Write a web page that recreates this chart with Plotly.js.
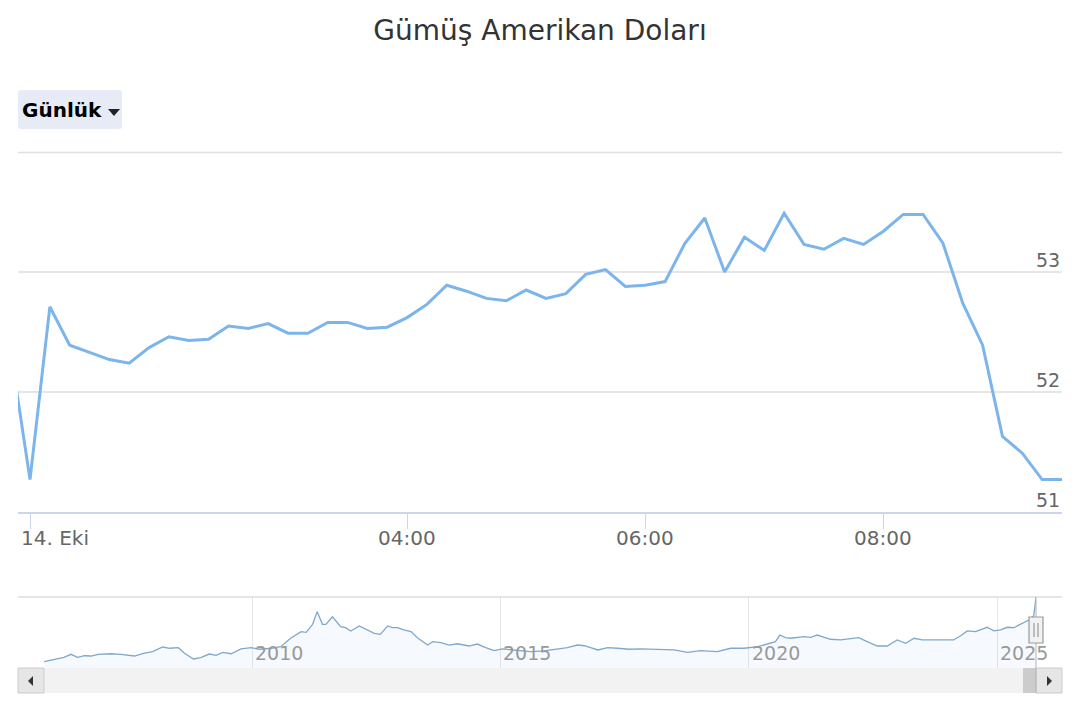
<!DOCTYPE html>
<html>
<head>
<meta charset="utf-8">
<script src="https://cdn.plot.ly/plotly-3.0.1.min.js"></script>
<style>html,body{margin:0;padding:0;background:#fff;}#chart{width:1080px;height:720px;}</style>
</head>
<body>
<div id="chart"></div>
<script>
// ---- main series: 10-minute prices (USD/oz) ----
const times = ["23:50","00:00","01:00","01:10","01:20","01:30","01:40","01:50","02:00","02:10","02:20","02:30","02:40","02:50","03:00","03:10","03:20","03:30","03:40","03:50","04:00","04:10","04:20","04:30","04:40","04:50","05:00","05:10","05:20","05:30","05:40","05:50","06:00","06:10","06:20","06:30","06:40","06:50","07:00","07:10","07:20","07:30","07:40","07:50","08:00","08:10","08:20","08:30","08:40","08:50","09:00","09:10","09:20","09:30"];
const prices = [52.37,51.27,52.71,52.39,52.33,52.27,52.24,52.37,52.46,52.43,52.44,52.55,52.53,52.57,52.49,52.49,52.58,52.58,52.53,52.54,52.62,52.73,52.89,52.84,52.78,52.76,52.85,52.78,52.82,52.98,53.02,52.88,52.89,52.92,53.24,53.45,53.00,53.29,53.18,53.49,53.23,53.19,53.28,53.23,53.34,53.48,53.48,53.24,52.74,52.39,51.63,51.49,51.27,51.27];
const tickTimes = ["00:00","04:00","06:00","08:00"];
const tickLabels = ["14. Eki","04:00","06:00","08:00"];
const yTicks = [51,52,53,54];
const yLabels = ["51","52","53"];

// ---- navigator series: long history ----
const navDates = ["2005-10-25","2006-01-20","2006-03-20","2006-05-10","2006-06-28","2006-08-18","2006-10-05","2006-11-25","2007-03-01","2007-05-12","2007-08-20","2007-11-01","2008-01-01","2008-03-15","2008-05-05","2008-07-08","2008-08-22","2008-10-27","2008-12-20","2009-02-20","2009-04-12","2009-05-30","2009-08-01","2009-10-12","2009-12-25","2010-02-25","2010-05-25","2010-07-30","2010-10-12","2010-12-28","2011-02-03","2011-03-22","2011-04-25","2011-06-03","2011-06-28","2011-08-15","2011-10-15","2011-11-20","2011-12-28","2012-02-28","2012-04-30","2012-06-18","2012-08-01","2012-09-24","2012-10-30","2012-12-05","2013-01-22","2013-03-15","2013-05-01","2013-07-15","2013-08-22","2013-10-20","2013-12-20","2014-02-20","2014-05-15","2014-07-15","2014-09-16","2014-11-16","2015-01-15","2015-04-12","2015-08-12","2015-11-18","2016-03-08","2016-05-08","2016-07-20","2016-09-10","2016-12-18","2017-02-28","2017-05-12","2017-08-05","2017-10-30","2018-01-12","2018-04-20","2018-07-01","2018-10-10","2019-01-12","2019-05-15","2019-08-22","2019-11-28","2020-03-08","2020-07-16","2020-08-18","2020-09-27","2020-11-06","2021-02-10","2021-04-01","2021-05-19","2021-08-25","2021-11-06","2022-01-08","2022-03-20","2022-05-22","2022-08-03","2022-10-16","2022-12-28","2023-03-01","2023-05-01","2023-07-01","2023-09-24","2023-12-05","2024-02-16","2024-04-08","2024-05-26","2024-07-26","2024-09-01","2024-10-20","2024-12-08","2025-01-26","2025-03-17","2025-05-05","2025-06-20","2025-08-22","2025-09-27","2025-10-14"];
const navValues = [7.1,8.8,10.2,12.3,10.2,11.3,11.1,12.3,12.7,12.3,11.1,13.2,14.2,17.5,16.6,17.0,13.0,9.0,9.9,12.5,11.6,13.7,12.7,16.1,17.0,15.9,16.6,17.7,23.7,28.4,27.9,33.6,42.6,33.6,33.6,39.0,31.9,31.2,28.9,32.4,29.6,27.2,26.5,32.4,31.2,31.2,29.6,28.4,24.1,18.9,21.3,20.6,18.9,19.8,18.2,19.6,17.0,14.9,16.1,15.4,14.2,14.7,16.1,17.0,18.9,18.4,15.4,17.0,16.6,15.9,16.1,15.9,15.9,15.4,13.7,14.9,14.2,16.6,16.6,17.7,21.3,26.0,24.1,23.7,24.8,24.4,26.0,23.0,22.5,23.2,24.1,21.3,18.2,18.2,22.5,20.1,23.7,22.5,22.5,22.5,22.5,25.5,28.9,28.4,29.8,31.5,28.9,29.6,31.5,31.2,33.6,36.7,39.7,52.6];
const navYears = ["2010","2015","2020","2025"];

// ---- layout helpers (pixel -> paper) ----
const PL = 18, PR = 1062, PW = PR - PL, H = 720;
const px = x => (x - PL) / PW;
const py = y => 1 - y / H;
const FONT = "DejaVu Sans, Verdana, sans-serif";

const xIdx = times.map((t, i) => i);
const tickIdx = tickTimes.map(t => times.indexOf(t));

const mainTrace = {
  x: xIdx, y: prices, type: "scatter", mode: "lines",
  line: {color: "#7cb5ec", width: 3}, hoverinfo: "skip", xaxis: "x", yaxis: "y"
};
const navTrace = {
  x: navDates, y: navValues, type: "scatter", mode: "lines",
  line: {color: "#7fa8cc", width: 1.3}, fill: "tozeroy", fillcolor: "rgba(124,181,236,0.07)",
  hoverinfo: "skip", xaxis: "x2", yaxis: "y2"
};

const annotations = [];
// y labels (above gridlines, right aligned)
yLabels.forEach(l => annotations.push({
  xref: "paper", yref: "y", x: 1, y: +l, xanchor: "right", yanchor: "middle", yshift: 12,
  text: l, showarrow: false, font: {family: FONT, size: 19, color: "#666"}
}));
// x labels
tickLabels.forEach((l, i) => annotations.push({
  xref: "x", yref: "paper", x: tickIdx[i], y: py(538), xanchor: i === 0 ? "left" : "center",
  xshift: i === 0 ? -11 : 0, yanchor: "middle",
  text: l, showarrow: false, font: {family: FONT, size: 20, color: "#666"}
}));
// navigator year labels
navYears.forEach(l => annotations.push({
  xref: "x2", yref: "paper", x: l + "-01-01", y: py(653), xanchor: "left", xshift: 1, yanchor: "middle",
  text: l, showarrow: false, font: {family: FONT, size: 19, color: "#999"}
}));
// range selector button text
annotations.push({
  xref: "paper", yref: "paper", x: px(20), y: py(110), xanchor: "left", yanchor: "middle",
  text: "Günlük", showarrow: false, font: {family: FONT, size: 20, color: "#000", weight: "bold"}
});

const P = (x, y) => px(x).toFixed(5) + "," + py(y).toFixed(5);
// rounded rectangle path in pixel terms
const rr = (x0, y0, x1, y1, r) =>
  "M" + P(x0 + r, y0) + "L" + P(x1 - r, y0) + "Q" + P(x1, y0) + " " + P(x1, y0 + r) +
  "L" + P(x1, y1 - r) + "Q" + P(x1, y1) + " " + P(x1 - r, y1) +
  "L" + P(x0 + r, y1) + "Q" + P(x0, y1) + " " + P(x0, y1 - r) +
  "L" + P(x0, y0 + r) + "Q" + P(x0, y0) + " " + P(x0 + r, y0) + "Z";

const shapes = [
  // range button box
  {type: "path", xref: "paper", yref: "paper", path: rr(18, 90, 122, 129, 3), fillcolor: "#e6ebf5", line: {width: 0}, layer: "below"},
  {type: "path", xref: "paper", yref: "paper", path: "M" + P(108, 109) + "L" + P(120, 109) + "L" + P(114, 116) + "Z", fillcolor: "#222", line: {width: 0}},
  // top gridline of main plot
  {type: "line", xref: "paper", yref: "paper", x0: 0, x1: 1, y0: py(152.5), y1: py(152.5), line: {color: "#e0e0e0", width: 1.3}},
  // navigator top outline
  {type: "line", xref: "paper", yref: "paper", x0: px(18), x1: px(1062), y0: py(597), y1: py(597), line: {color: "#cccccc", width: 1.2}},
  // scrollbar track
  {type: "rect", xref: "paper", yref: "paper", x0: px(18), x1: px(1062), y0: py(693), y1: py(668), fillcolor: "#f2f2f2", line: {width: 0}},
  // scrollbar thumb
  {type: "rect", xref: "paper", yref: "paper", x0: px(1023), x1: px(1036), y0: py(693), y1: py(668), fillcolor: "#cccccc", line: {width: 0}},
  // buttons
  {type: "rect", xref: "paper", yref: "paper", x0: px(18), x1: px(44), y0: py(693), y1: py(668), fillcolor: "#e6e6e6", line: {color: "#cccccc", width: 1}},
  {type: "rect", xref: "paper", yref: "paper", x0: px(1036), x1: px(1062), y0: py(693), y1: py(668), fillcolor: "#e6e6e6", line: {color: "#cccccc", width: 1}},
  {type: "path", xref: "paper", yref: "paper", path: "M" + P(33, 676) + "L" + P(33, 686) + "L" + P(28, 681) + "Z", fillcolor: "#333", line: {width: 0}},
  {type: "path", xref: "paper", yref: "paper", path: "M" + P(1047, 676) + "L" + P(1047, 686) + "L" + P(1052, 681) + "Z", fillcolor: "#333", line: {width: 0}},
  // navigator outline at selection edge
  {type: "line", xref: "paper", yref: "paper", x0: px(1036), x1: px(1036), y0: py(597), y1: py(617), line: {color: "#b3b3b3", width: 1}},
  {type: "line", xref: "paper", yref: "paper", x0: px(1036), x1: px(1036), y0: py(643), y1: py(693), line: {color: "#b3b3b3", width: 1}},
  // navigator handle
  {type: "rect", xref: "paper", yref: "paper", x0: px(1029), x1: px(1043), y0: py(643), y1: py(617), fillcolor: "#f2f2f2", line: {color: "#999999", width: 1.2}},
  {type: "line", xref: "paper", yref: "paper", x0: px(1034), x1: px(1034), y0: py(623), y1: py(637), line: {color: "#999999", width: 1.2}},
  {type: "line", xref: "paper", yref: "paper", x0: px(1038), x1: px(1038), y0: py(623), y1: py(637), line: {color: "#999999", width: 1.2}}
];

const layout = {
  width: 1080, height: 720,
  margin: {l: PL, r: 1080 - PR, t: 0, b: 0, pad: 0},
  paper_bgcolor: "#fff", plot_bgcolor: "rgba(0,0,0,0)",
  showlegend: false,
  title: {text: "Gümüş Amerikan Doları", font: {family: FONT, size: 28, color: "#333"},
          x: 0.5, xref: "container", xanchor: "center", y: 1 - 30 / H, yref: "container", yanchor: "middle"},
  xaxis: {domain: [0, 1], range: [0.395, times.length - 1], showgrid: false, zeroline: false,
          tickmode: "array", tickvals: tickIdx, showticklabels: false, ticks: "outside", ticklen: 15,
          tickcolor: "#ccd6eb", tickwidth: 1, showline: true, linecolor: "#ccd6eb", linewidth: 1.5, fixedrange: true},
  yaxis: {domain: [py(512), py(152)], range: [yTicks[0], yTicks[yTicks.length - 1]], tickmode: "array", tickvals: yTicks,
          showticklabels: false, showgrid: true, gridcolor: "#e6e6e6", gridwidth: 1.2, zeroline: false, showline: false, fixedrange: true},
  xaxis2: {domain: [px(44), px(1036)], type: "date", range: ["2005-10-24", "2025-10-14"], anchor: "y2",
           tickmode: "array", tickvals: navYears.map(y => y + "-01-01"), showticklabels: false,
           showgrid: true, gridcolor: "#e6e6e6", gridwidth: 1, zeroline: false, showline: false, fixedrange: true},
  yaxis2: {domain: [py(668), py(597)], range: [2.59, 53], anchor: "x2", showgrid: false, showticklabels: false,
           zeroline: false, showline: false, fixedrange: true},
  annotations: annotations,
  shapes: shapes
};

Plotly.newPlot("chart", [navTrace, mainTrace], layout, {displayModeBar: false, staticPlot: true});
</script>
</body>
</html>
